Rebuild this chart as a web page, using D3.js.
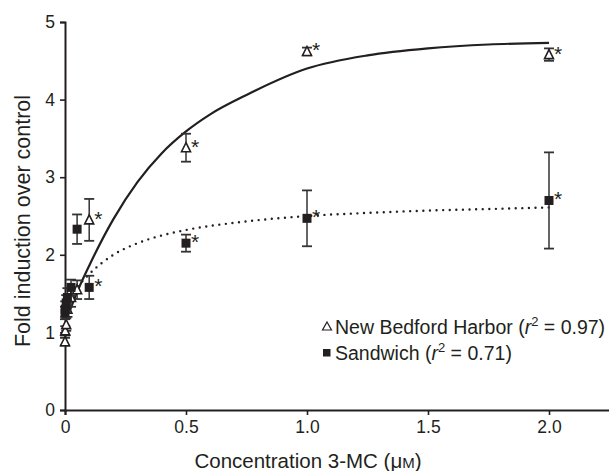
<!DOCTYPE html>
<html>
<head>
<meta charset="utf-8">
<script src="https://cdn.jsdelivr.net/npm/d3@7"></script>
<style>
  html, body { margin: 0; padding: 0; background: #fff; }
  svg { display: block; }
  text { font-family: "Liberation Sans", Arial, sans-serif; fill: #231f20; }
</style>
</head>
<body>
<script>
// ---- data ----
const concentrations = [0, 0.001, 0.005, 0.01, 0.025, 0.05, 0.1, 0.5, 1.0, 2.0];
const nbhMean = [0.88, 1.02, 1.10, 1.30, 1.45, 1.55, 2.45, 3.38, 4.62, 4.58];
const nbhErr  = [0.05, 0.06, 0.08, 0.10, 0.12, 0.12, 0.27, 0.18, 0.05, 0.08];
const nbhStar = [false, false, false, false, false, false, true, true, true, true];
const sandMean = [1.25, 1.30, 1.38, 1.45, 1.58, 2.33, 1.58, 2.15, 2.47, 2.70];
const sandErr  = [0.08, 0.10, 0.10, 0.12, 0.10, 0.19, 0.15, 0.11, 0.36, 0.62];
const sandStar = [false, false, false, false, false, false, true, true, true, true];
// fitted curves
const nbhFitX = [0.02, 0.05, 0.1, 0.2, 0.3, 0.4, 0.5, 0.6, 0.75, 1.0, 1.25, 1.5, 1.75, 2.0];
const nbhFitY = [1.28, 1.52, 1.86, 2.46, 2.94, 3.31, 3.59, 3.81, 4.06, 4.40, 4.57, 4.66, 4.71, 4.73];
const sandFitX = [0.04, 0.05, 0.1, 0.15, 0.2, 0.3, 0.4, 0.5, 0.75, 1.0, 1.25, 1.5, 1.75, 2.0];
const sandFitY = [1.52, 1.57, 1.75, 1.89, 2.00, 2.15, 2.25, 2.32, 2.43, 2.50, 2.54, 2.57, 2.59, 2.61];
const xTicks = [0, 0.5, 1.0, 1.5, 2.0];
const xTickLabels = ["0", "0.5", "1.0", "1.5", "2.0"];
const yTicks = [0, 1, 2, 3, 4, 5];
const yTickLabels = ["0", "1", "2", "3", "4", "5"];

const W = 609, H = 471;
const ink = "#231f20";
const svg = d3.select("body").append("svg").attr("width", W).attr("height", H);

const x = d3.scaleLinear().domain([0, 2.25]).range([65, 609.5]);
const y = d3.scaleLinear().domain([0, 5]).range([410, 22]);

// axes
const xAxis = d3.axisBottom(x).tickValues(xTicks).tickFormat((d, i) => xTickLabels[i]).tickSizeOuter(0).tickSize(5).tickPadding(6);
const yAxis = d3.axisLeft(y).tickValues(yTicks).tickFormat((d, i) => yTickLabels[i]).tickSizeOuter(0).tickSize(5).tickPadding(5);

const gx = svg.append("g").attr("transform", `translate(0,${y(0)})`).call(xAxis);
const gy = svg.append("g").attr("transform", `translate(${x(0)},0)`).call(yAxis);
[gx, gy].forEach(g => {
  g.select(".domain").attr("stroke", ink).attr("stroke-width", 2);
  g.selectAll(".tick line").attr("stroke", ink).attr("stroke-width", 1.6);
  g.selectAll(".tick text").attr("font-size", 17.5).attr("fill", ink)
    .attr("font-family", '"Liberation Sans", Arial, sans-serif');
});

// axis titles
const xt = svg.append("text").attr("x", 308).attr("y", 468).attr("text-anchor", "middle").attr("font-size", 20.5);
xt.append("tspan").text("Concentration 3-MC (μ");
xt.append("tspan").attr("font-size", 15).text("M");
xt.append("tspan").text(")");

svg.append("text").attr("transform", "translate(30,221) rotate(-90)")
  .attr("text-anchor", "middle").attr("font-size", 21.5).text("Fold induction over control");

// curves
const line = d3.line().x(d => x(d[0])).y(d => y(d[1])).curve(d3.curveMonotoneX);
svg.append("path").datum(nbhFitX.map((v, i) => [v, nbhFitY[i]]))
  .attr("d", line).attr("fill", "none").attr("stroke", ink).attr("stroke-width", 2.2);
svg.append("path").datum(sandFitX.map((v, i) => [v, sandFitY[i]]))
  .attr("d", line).attr("fill", "none").attr("stroke", ink).attr("stroke-width", 2.4)
  .attr("stroke-linecap", "round").attr("stroke-dasharray", "0,6.6");

// error bars + markers
function drawSeries(mean, err, kind) {
  const g = svg.append("g");
  const data = concentrations.map((c, i) => ({ c, m: mean[i], e: err[i] }));
  const eb = g.selectAll("g.eb").data(data).enter().append("g")
    .attr("stroke", "#333").attr("stroke-width", 1.5);
  eb.append("line").attr("x1", d => x(d.c)).attr("x2", d => x(d.c))
    .attr("y1", d => y(d.m - d.e)).attr("y2", d => y(d.m + d.e));
  eb.append("line").attr("x1", d => x(d.c) - 5).attr("x2", d => x(d.c) + 5)
    .attr("y1", d => y(d.m + d.e)).attr("y2", d => y(d.m + d.e)).attr("stroke-width", 1.8);
  eb.append("line").attr("x1", d => x(d.c) - 5).attr("x2", d => x(d.c) + 5)
    .attr("y1", d => y(d.m - d.e)).attr("y2", d => y(d.m - d.e)).attr("stroke-width", 1.8);
  if (kind === "tri") {
    g.selectAll("path.m").data(data).enter().append("path")
      .attr("d", d => { const cx = x(d.c), cy = y(d.m); return `M${cx},${cy - 5}L${cx + 4.5},${cy + 4}L${cx - 4.5},${cy + 4}Z`; })
      .attr("fill", "#fff").attr("stroke", ink).attr("stroke-width", 1.6);
  } else {
    g.selectAll("rect.m").data(data).enter().append("rect")
      .attr("x", d => x(d.c) - 4.5).attr("y", d => y(d.m) - 4.5)
      .attr("width", 9).attr("height", 9).attr("fill", ink);
  }
}
drawSeries(nbhMean, nbhErr, "tri");
drawSeries(sandMean, sandErr, "sq");

// asterisks
function drawStars(mean, stars) {
  concentrations.forEach((c, i) => {
    if (!stars[i]) return;
    svg.append("text").attr("x", x(c) + 5).attr("y", y(mean[i]) + 6)
      .attr("font-size", 21).text("*");
  });
}
drawStars(nbhMean, nbhStar);
drawStars(sandMean, sandStar);

// legend
const lg = svg.append("g");
lg.append("path").attr("d", "M327,322L331.5,330L322.5,330Z").attr("fill", "#fff").attr("stroke", ink).attr("stroke-width", 1.2);
const t1 = lg.append("text").attr("x", 335).attr("y", 334).attr("font-size", 19.5);
t1.append("tspan").text("New Bedford Harbor (");
t1.append("tspan").attr("font-style", "italic").text("r");
t1.append("tspan").attr("font-size", 13).attr("dy", -8).text("2");
t1.append("tspan").attr("dy", 8).text(" = 0.97)");
lg.append("rect").attr("x", 323).attr("y", 349).attr("width", 7.5).attr("height", 7.5).attr("fill", ink);
const t2 = lg.append("text").attr("x", 335).attr("y", 360).attr("font-size", 19.5);
t2.append("tspan").text("Sandwich (");
t2.append("tspan").attr("font-style", "italic").text("r");
t2.append("tspan").attr("font-size", 13).attr("dy", -8).text("2");
t2.append("tspan").attr("dy", 8).text(" = 0.71)");
</script>
</body>
</html>
